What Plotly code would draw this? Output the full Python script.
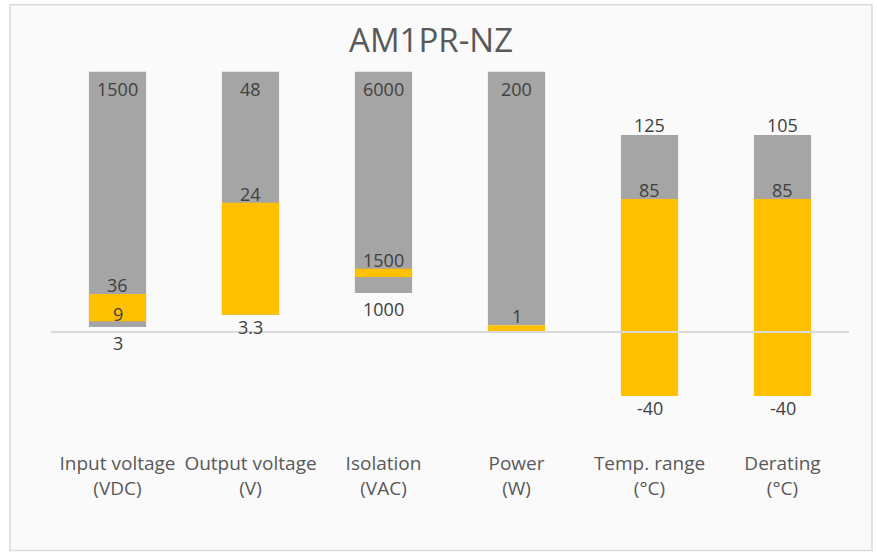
import plotly.graph_objects as go

# ---- data (plot units: 0 = baseline, 100 = tallest bar top) ----
categories = ["Input voltage<br>(VDC)", "Output voltage<br>(V)", "Isolation<br>(VAC)",
              "Power<br>(W)", "Temp. range<br>(°C)", "Derating<br>(°C)"]
gray_low = [1.9, 6.6, 15.0, 2.6, 51.1, 51.1]
gray_high = [100, 100, 100, 100, 75.7, 75.7]
orange_low = [4.1, 6.6, 21.1, 0.3, -24.6, -24.6]
orange_high = [14.6, 49.7, 24.3, 2.6, 51.1, 51.1]

# ---- displayed values ----
label_gray_high = ["1500", "48", "6000", "200", "125", "105"]
label_orange_high = ["36", "24", "1500", "1", "85", "85"]
label_orange_low = ["9", "3.3", "", "", "-40", "-40"]
label_gray_low = ["3", "", "1000", "", "", ""]

GRAY = "#a5a5a5"
ORANGE = "#ffc000"
FONT = "Open Sans"

fig = go.Figure()
fig.add_trace(go.Bar(
    x=categories, y=[h - l for h, l in zip(gray_high, gray_low)], base=gray_low,
    marker=dict(color=GRAY, line=dict(width=0)), width=0.43, hoverinfo="skip"))
fig.add_trace(go.Bar(
    x=categories, y=[h - l for h, l in zip(orange_high, orange_low)], base=orange_low,
    marker=dict(color=ORANGE, line=dict(width=0)), width=0.43, hoverinfo="skip"))

ann = []
lab_font = dict(family=FONT, size=18, color="#404040")
for i, c in enumerate(categories):
    # top of gray bar: inside if it hits the top of the scale, else outside
    if label_gray_high[i]:
        if gray_high[i] >= 100:
            ann.append(dict(x=c, y=gray_high[i], text=label_gray_high[i], yanchor="top", yshift=-3))
        else:
            ann.append(dict(x=c, y=gray_high[i], text=label_gray_high[i], yanchor="bottom", yshift=-4))
    if label_orange_high[i]:
        ann.append(dict(x=c, y=orange_high[i], text=label_orange_high[i], yanchor="bottom", yshift=-5))
    if label_orange_low[i]:
        if label_gray_low[i]:
            ann.append(dict(x=c, y=orange_low[i], text=label_orange_low[i], yanchor="bottom", yshift=-7))
        else:
            ann.append(dict(x=c, y=orange_low[i], text=label_orange_low[i], yanchor="top", yshift=2))
    if label_gray_low[i]:
        ann.append(dict(x=c, y=gray_low[i], text=label_gray_low[i], yanchor="top", yshift=-2))
for a in ann:
    a.update(xref="x", yref="y", showarrow=False, font=lab_font, xanchor="center")

fig.update_layout(
    annotations=ann,
    barmode="overlay",
    showlegend=False,
    width=877, height=552,
    margin=dict(l=51, r=28, t=51, b=116),
    paper_bgcolor="white",
    plot_bgcolor="rgba(0,0,0,0)",
    title=dict(text="AM1PR-NZ", x=0.4915, xref="container", xanchor="center",
               y=1 - 40.5 / 552, yref="container", yanchor="middle",
               font=dict(family=FONT, size=33, color="#595959")),
    xaxis=dict(showgrid=False, zeroline=False, showline=False, ticks="outside",
               ticklen=10, tickcolor="rgba(0,0,0,0)",
               tickfont=dict(family=FONT, size=19, color="#595959")),
    yaxis=dict(range=[-40, 108], showgrid=False, zeroline=False, showline=False,
               showticklabels=False),
    shapes=[
        dict(type="rect", xref="paper", yref="paper", x0=-0.0514, x1=1.0288,
             y0=-0.2976, y1=1.1202, fillcolor="#fafafa", line=dict(color="#d9d9d9", width=1.5),
             layer="below"),
        dict(type="line", xref="paper", yref="y", x0=0, x1=1, y0=0, y1=0,
             line=dict(color="#d9d9d9", width=2), layer="above"),
    ],
)

fig.write_html("out.html", config={"displayModeBar": False},
               post_script="document.body.style.margin='0';")
